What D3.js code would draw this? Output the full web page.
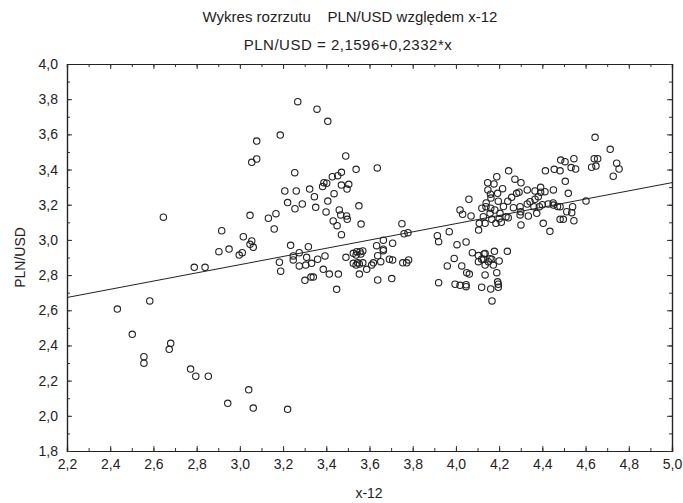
<!DOCTYPE html>
<html>
<head>
<meta charset="utf-8">
<script src="https://cdn.jsdelivr.net/npm/d3@7"></script>
<style>
  body { margin: 0; background: #fff; }
  svg text { font-family: "Liberation Sans", Arial, sans-serif; fill: #222; }
</style>
</head>
<body>
<svg width="683" height="503"></svg>
<script>
// scatter: PLN/USD vs x-12
const titleText = "Wykres rozrzutu    PLN/USD względem x-12";
const subText = "PLN/USD = 2,1596+0,2332*x";
const xLabel = "x-12";
const yLabel = "PLN/USD";

const xTicks = [2.2, 2.4, 2.6, 2.8, 3.0, 3.2, 3.4, 3.6, 3.8, 4.0, 4.2, 4.4, 4.6, 4.8, 5.0];
const yTicks = [1.8, 2.0, 2.2, 2.4, 2.6, 2.8, 3.0, 3.2, 3.4, 3.6, 3.8, 4.0];

// regression PLN/USD = a + b*x
const fitA = 2.1596;
const fitB = 0.2332;

const xVals = [
  2.433, 2.583, 2.502, 2.556, 2.556, 2.680, 2.673, 2.772, 2.796, 2.854,
  2.944, 3.041, 3.062, 3.221, 2.646, 2.789, 2.839, 2.903, 2.950, 2.916,
  3.016, 2.997, 3.011, 3.055, 3.047, 3.062, 3.047, 3.078, 3.078, 3.055,
  3.268, 3.357, 3.407, 3.187, 3.490, 3.538, 3.636, 3.254, 3.470, 3.453,
  3.428, 3.389, 3.402, 3.383, 3.470, 3.504, 3.496, 3.323, 3.208, 3.261,
  3.345, 3.436, 3.407, 3.221, 3.289, 3.255, 3.351, 3.399, 3.460, 3.467,
  3.494, 3.497, 3.551, 3.167, 3.132, 3.159, 3.432, 3.450, 3.561, 3.470,
  3.750, 3.778, 3.760, 3.235, 3.317,
  3.183, 3.189, 3.247, 3.247, 3.275, 3.275, 3.309, 3.305, 3.332, 3.360,
  3.394, 3.386, 3.414, 3.301, 3.329, 3.340, 3.448, 3.456, 3.491, 3.525,
  3.538, 3.541, 3.525, 3.538, 3.553, 3.569, 3.553, 3.587, 3.610, 3.618,
  3.638, 3.652, 3.664, 3.638, 3.692, 3.707, 3.703, 3.754, 3.772, 3.781,
  3.633, 3.664, 3.664, 3.707, 3.556, 3.569, 3.560, 3.545,
  3.920, 3.960, 3.914, 3.920, 3.969, 4.005, 4.047, 4.076, 4.104, 4.135,
  4.178, 4.238, 3.992, 4.127, 4.158, 4.027, 4.050, 4.062, 3.996, 4.019,
  4.047, 4.047, 4.104, 4.119, 4.135, 4.150, 4.166, 4.173, 4.135, 4.189,
  4.193, 4.196, 4.196, 4.119, 4.161, 4.167, 4.130, 4.200,
  4.644, 4.714, 4.744, 4.755, 4.728, 4.640, 4.656, 4.628, 4.648, 4.485,
  4.505, 4.546, 4.533, 4.554, 4.455, 4.482, 4.414, 4.506, 4.244, 4.189,
  4.147, 4.176, 4.273, 4.301, 4.216, 4.193, 4.148, 4.162, 4.196, 4.139,
  4.161, 4.258, 4.281, 4.292, 4.330, 4.366, 4.392, 4.392, 4.412, 4.451,
  4.381, 4.366, 4.343, 4.266, 4.297, 4.330, 4.361, 4.386, 4.427, 4.451,
  4.482, 4.520, 4.540, 4.602, 4.060, 4.019, 4.031, 4.070, 4.127, 4.158,
  4.204, 4.232, 4.108, 4.135, 4.166, 4.185, 4.210, 4.242, 4.105, 4.301,
  4.297, 4.335, 4.374, 4.404, 4.435, 4.482, 4.497, 4.546, 4.513, 4.536,
  4.120, 4.140, 4.180, 4.220, 4.160, 4.240, 4.300, 4.400, 4.450, 4.470,
  4.200
];

const yVals = [
  2.607, 2.653, 2.463, 2.336, 2.299, 2.412, 2.378, 2.266, 2.225, 2.225,
  2.071, 2.148, 2.044, 2.037, 3.129, 2.844, 2.844, 2.933, 2.948, 3.052,
  3.018, 2.914, 2.927, 2.994, 2.975, 2.958, 3.140, 3.562, 3.460, 3.441,
  3.786, 3.743, 3.674, 3.596, 3.477, 3.401, 3.409, 3.382, 3.384, 3.365,
  3.359, 3.325, 3.322, 3.303, 3.312, 3.316, 3.289, 3.289, 3.278, 3.278,
  3.246, 3.263, 3.221, 3.212, 3.204, 3.177, 3.185, 3.159, 3.170, 3.142,
  3.136, 3.117, 3.194, 3.149, 3.123, 3.062, 3.108, 3.081, 3.090, 3.030,
  3.092, 3.041, 3.035, 2.969, 2.961,
  2.873, 2.822, 2.886, 2.909, 2.927, 2.852, 2.901, 2.857, 2.867, 2.890,
  2.909, 2.833, 2.806, 2.770, 2.789, 2.789, 2.719, 2.806, 2.901, 2.924,
  2.914, 2.933, 2.867, 2.857, 2.863, 2.870, 2.806, 2.833, 2.857, 2.870,
  2.910, 2.876, 2.939, 2.772, 2.890, 2.886, 2.780, 2.870, 2.870, 2.886,
  2.967, 2.998, 2.947, 2.981, 2.933, 2.937, 2.920, 2.870,
  2.757, 2.852, 3.024, 2.990, 3.047, 2.973, 2.988, 2.927, 2.911, 2.923,
  2.935, 2.935, 2.895, 2.890, 2.893, 2.852, 2.814, 2.806, 2.748, 2.742,
  2.734, 2.745, 2.876, 2.890, 2.857, 2.876, 2.890, 2.857, 2.801, 2.814,
  2.762, 2.748, 2.731, 2.731, 2.721, 2.653, 2.920, 2.880,
  3.583, 3.515, 3.436, 3.403, 3.362, 3.462, 3.462, 3.413, 3.420, 3.454,
  3.445, 3.462, 3.411, 3.403, 3.401, 3.393, 3.393, 3.333, 3.393, 3.359,
  3.325, 3.318, 3.345, 3.325, 3.291, 3.265, 3.284, 3.238, 3.220, 3.189,
  3.180, 3.242, 3.265, 3.271, 3.284, 3.278, 3.299, 3.271, 3.274, 3.284,
  3.246, 3.231, 3.217, 3.183, 3.189, 3.204, 3.189, 3.189, 3.204, 3.198,
  3.189, 3.265, 3.189, 3.221, 3.231, 3.170, 3.146, 3.136, 3.132, 3.151,
  3.151, 3.132, 3.094, 3.094, 3.117, 3.094, 3.100, 3.126, 3.056, 3.085,
  3.142, 3.136, 3.151, 3.094, 3.049, 3.117, 3.117, 3.109, 3.160, 3.155,
  3.180, 3.210, 3.170, 3.190, 3.260, 3.220, 3.160, 3.200, 3.210, 3.190,
  3.120
];

const svg = d3.select("svg");
const margin = { left: 67, right: 11, top: 64, bottom: 52 };
const W = 683 - margin.left - margin.right;
const H = 503 - margin.top - margin.bottom;

const x = d3.scaleLinear().domain([2.2, 5.0]).range([0, W]);
const y = d3.scaleLinear().domain([1.8, 4.0]).range([H, 0]);

const g = svg.append("g").attr("transform", `translate(${margin.left},${margin.top})`);
const fmt = d => d3.format(".1f")(d).replace(".", ",");

const minorX = d3.range(22, 51).map(d => d / 10);
const minorY = d3.range(18, 41).map(d => d / 10);

// minor ticks, all four sides, pointing in
g.append("g").attr("transform", `translate(0,${H})`)
  .call(d3.axisBottom(x).tickValues(minorX).tickSize(-3).tickFormat(""));
g.append("g").call(d3.axisTop(x).tickValues(minorX).tickSize(-3).tickFormat(""));
g.append("g").call(d3.axisLeft(y).tickValues(minorY).tickSize(-3).tickFormat(""));
g.append("g").attr("transform", `translate(${W},0)`)
  .call(d3.axisRight(y).tickValues(minorY).tickSize(-3).tickFormat(""));

// major ticks with labels
const xAxis = g.append("g").attr("transform", `translate(0,${H})`)
  .call(d3.axisBottom(x).tickValues(xTicks).tickSize(-5).tickPadding(8).tickFormat(fmt));
const yAxis = g.append("g")
  .call(d3.axisLeft(y).tickValues(yTicks).tickSize(-5).tickPadding(9).tickFormat(fmt));
g.append("g").call(d3.axisTop(x).tickValues(xTicks).tickSize(-5).tickFormat(""));
g.append("g").attr("transform", `translate(${W},0)`)
  .call(d3.axisRight(y).tickValues(yTicks).tickSize(-5).tickFormat(""));

g.selectAll(".domain").attr("stroke", "#222").attr("stroke-width", 1.2);
g.selectAll(".tick line").attr("stroke", "#333");
xAxis.selectAll("text").attr("font-size", 14).style("fill", "#222");
yAxis.selectAll("text").attr("font-size", 14).style("fill", "#222");

// fitted line
g.append("line")
  .attr("x1", x(2.2)).attr("y1", y(fitA + fitB * 2.2))
  .attr("x2", x(5.0)).attr("y2", y(fitA + fitB * 5.0))
  .attr("stroke", "#222").attr("stroke-width", 1);

const pts = xVals.map((v, i) => ({ x: v, y: yVals[i] }));
g.selectAll(".pt")
  .data(pts)
  .enter()
  .append("circle")
  .attr("class", "pt")
  .attr("cx", d => x(d.x))
  .attr("cy", d => y(d.y))
  .attr("r", 3.2)
  .style("fill", "none")
  .style("stroke", "#222")
  .style("stroke-width", 1.1);

// titles
svg.append("text").attr("x", 350).attr("y", 22).attr("text-anchor", "middle")
  .attr("font-size", 15).style("white-space", "pre").attr("xml:space", "preserve")
  .text(titleText);
svg.append("text").attr("x", 348).attr("y", 50).attr("text-anchor", "middle")
  .attr("font-size", 15).attr("letter-spacing", 0.5).text(subText);

svg.append("text").attr("x", 369).attr("y", 498).attr("text-anchor", "middle")
  .attr("font-size", 14).text(xLabel);
svg.append("text")
  .attr("transform", `translate(25,${margin.top + H / 2}) rotate(-90)`)
  .attr("text-anchor", "middle").attr("font-size", 14).text(yLabel);
</script>
</body>
</html>
